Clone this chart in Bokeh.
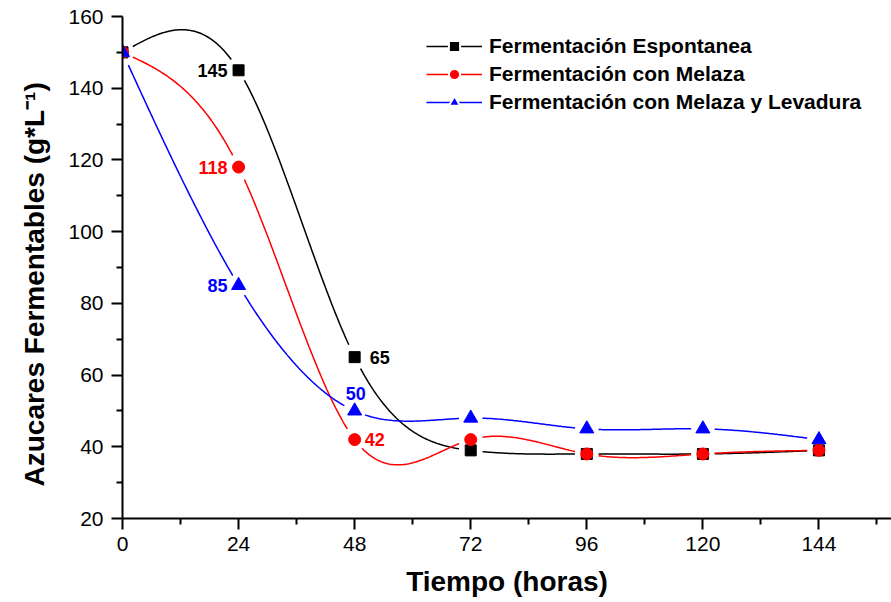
import numpy as np
from bokeh.plotting import figure
from bokeh.models import Range1d, FixedTicker, Legend, LegendItem, Label, Title
from bokeh.embed import file_html
from bokeh.resources import INLINE

# Fermentable sugars (g/L) over time (hours)
hours = [0, 24, 48, 72, 96, 120, 144]
espontanea = [150, 145, 65, 39, 38, 38, 39]
melaza = [150, 118, 42, 42, 38, 38, 39]
melaza_levadura = [150, 85, 50, 48, 45, 45, 42]

x_major = [0, 24, 48, 72, 96, 120, 144]
x_minor = [12, 36, 60, 84, 108, 132, 156]
y_major = [20, 40, 60, 80, 100, 120, 140, 160]
y_minor = [30, 50, 70, 90, 110, 130, 150]

W, H = 891, 602
LEFT, RIGHT, TOP, BOTTOM = 122, 0, 16, 84
X0, X1 = 0, 159
Y0, Y1 = 20, 160
PX_X = (W - LEFT - RIGHT) / (X1 - X0)
PX_Y = (H - TOP - BOTTOM) / (Y1 - Y0)
FONT = "Liberation Sans"


def spline_with_gaps(xs, ys, gap_px=11.0, n=80):
    """Natural cubic spline through the points, broken near each symbol."""
    xs = np.asarray(xs, float)
    ys = np.asarray(ys, float)
    k = len(xs)
    h = np.diff(xs)
    A = np.zeros((k, k))
    b = np.zeros(k)
    A[0, 0] = A[-1, -1] = 1.0
    for i in range(1, k - 1):
        A[i, i - 1] = h[i - 1]
        A[i, i] = 2 * (h[i - 1] + h[i])
        A[i, i + 1] = h[i]
        b[i] = 6 * ((ys[i + 1] - ys[i]) / h[i] - (ys[i] - ys[i - 1]) / h[i - 1])
    M = np.linalg.solve(A, b)
    out_x, out_y = [], []
    for i in range(k - 1):
        t = np.linspace(xs[i], xs[i + 1], n)
        hi = h[i]
        a = xs[i + 1] - t
        c = t - xs[i]
        s = (M[i] * a ** 3 + M[i + 1] * c ** 3) / (6 * hi) \
            + (ys[i] / hi - M[i] * hi / 6) * a \
            + (ys[i + 1] / hi - M[i + 1] * hi / 6) * c
        out_x.extend(t.tolist())
        out_y.extend(s.tolist())
        out_x.append(np.nan)
        out_y.append(np.nan)
    ox = np.array(out_x)
    oy = np.array(out_y)
    for px, py in zip(xs, ys):
        d = np.hypot((ox - px) * PX_X, (oy - py) * PX_Y)
        oy = np.where(d < gap_px, np.nan, oy)
    return ox, oy


p = figure(width=W, height=H, output_backend="svg", toolbar_location=None,
           x_range=Range1d(X0, X1), y_range=Range1d(Y0, Y1),
           min_border_left=LEFT, min_border_right=RIGHT,
           min_border_top=TOP, min_border_bottom=BOTTOM)
p.outline_line_color = None
p.grid.visible = False
p.background_fill_color = "white"
p.border_fill_color = "white"

for ax in (p.xaxis[0], p.yaxis[0]):
    ax.axis_line_width = 2
    ax.major_tick_line_width = 2
    ax.minor_tick_line_width = 2
    ax.major_tick_out = 11
    ax.major_tick_in = 0
    ax.minor_tick_out = 6
    ax.minor_tick_in = 0
    ax.major_label_text_font = FONT
    ax.major_label_text_font_size = "21px"
    ax.major_label_text_color = "black"
    ax.axis_label_text_font = FONT
    ax.axis_label_text_font_style = "bold"
    ax.axis_label_text_font_size = "28px"
    ax.axis_label_text_color = "black"

p.xaxis.ticker = FixedTicker(ticks=x_major, minor_ticks=x_minor)
p.yaxis.ticker = FixedTicker(ticks=y_major, minor_ticks=y_minor)
p.xaxis.major_label_standoff = 7
p.yaxis.major_label_standoff = 8
p.xaxis.axis_label = "Tiempo (horas)"
p.xaxis.axis_label_standoff = 12

# vertical title on the left, starting a little above the frame bottom
p.add_layout(Title(text="Azucares Fermentables (g*L\u207B\u00B9)",
                   align="left", offset=32, standoff=32,
                   text_color="black", text_font=FONT,
                   text_font_style="bold", text_font_size="28px"), "left")

series = [
    ("Fermentación Espontanea", espontanea, "black", "square", 11),
    ("Fermentación con Melaza", melaza, "red", "circle", 12),
    ("Fermentación con Melaza y Levadura", melaza_levadura, "blue", "triangle", 14),
]

# legend symbols with a white rim, so the key line breaks around them;
# they sit under the plotted marks, at each series' first point
keys = []
for name, vals, color, marker, size in series:
    keys.append(p.scatter(hours[:1], vals[:1], marker=marker, size=size + 2,
                          fill_color=color, line_color="white", line_width=2,
                          level="underlay"))

items = []
for (name, vals, color, marker, size), key in zip(series, keys):
    cx, cy = spline_with_gaps(hours, vals)
    ln = p.line(cx, cy, line_color=color, line_width=1.5)
    p.scatter(hours, vals, marker=marker, size=size,
              fill_color=color, line_color=color)
    items.append(LegendItem(label=name, renderers=[ln, key]))

legend = Legend(items=items, location=(304, 402), orientation="vertical",
                glyph_width=56, glyph_height=28, label_height=20,
                spacing=0, padding=0, margin=0, label_standoff=7,
                border_line_color=None, background_fill_alpha=0,
                label_text_font=FONT, label_text_font_style="bold",
                label_text_font_size="21px", label_text_color="black")
p.add_layout(legend, "center")

# value annotations on selected points
annotations = [
    (espontanea, 1, "black", "right", -11, 0),
    (melaza, 1, "red", "right", -11, 0),
    (melaza_levadura, 1, "blue", "right", -11, 0),
    (espontanea, 2, "black", "left", 15, 0),
    (melaza_levadura, 2, "blue", "center", 1, 17),
    (melaza, 2, "red", "left", 10, 0),
]
for vals, idx, color, align, dx, dy in annotations:
    p.add_layout(Label(x=hours[idx], y=vals[idx], text=str(vals[idx]),
                       x_offset=dx, y_offset=dy, text_align=align,
                       text_baseline="middle", text_color=color,
                       text_font=FONT, text_font_style="bold",
                       text_font_size="18px"))

open("out.html", "w").write(file_html(p, INLINE))
